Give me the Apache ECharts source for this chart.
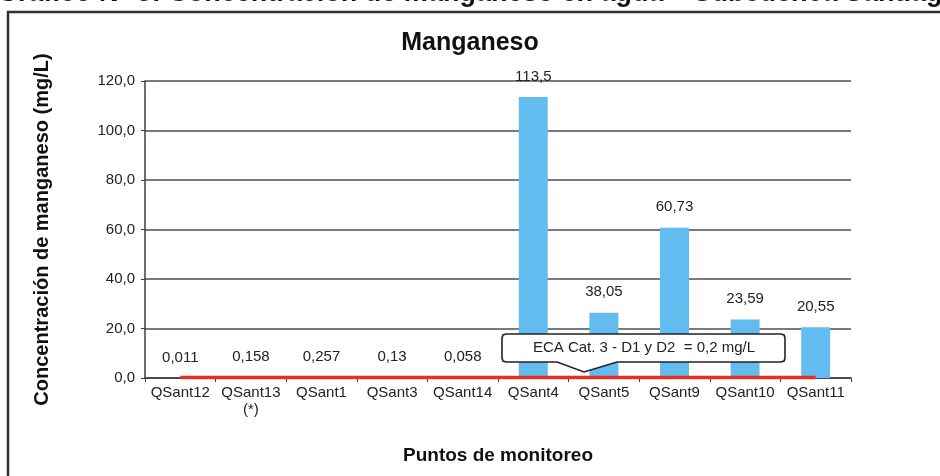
<!DOCTYPE html>
<html>
<head>
<meta charset="utf-8">
<script src="https://cdn.jsdelivr.net/npm/echarts@6/dist/echarts.min.js"></script>
<style>
  html, body { margin: 0; padding: 0; background: #fff; }
  #chart { width: 940px; height: 476px; }
</style>
</head>
<body>
<div id="chart"></div>
<script>
const categories = ['QSant12', 'QSant13\n(*)', 'QSant1', 'QSant3', 'QSant14', 'QSant4', 'QSant5', 'QSant9', 'QSant10', 'QSant11']
// bar heights as drawn in the picture
const manganeso = [0.011, 0.158, 0.257, 0.13, 0.058, 113.5, 26.4, 60.73, 23.59, 20.55]
// data labels as printed on the chart
const valueLabels = ['0,011', '0,158', '0,257', '0,13', '0,058', '113,5', '38,05', '60,73', '23,59', '20,55']
// ECA Cat. 3 - D1 y D2 limit
const ecaLimit = [0.2, 0.2, 0.2, 0.2, 0.2, 0.2, 0.2, 0.2, 0.2, 0.2]
const yTicks = { min: 0, max: 120, interval: 20 }

const font = 'Liberation Sans'
const chart = echarts.init(document.getElementById('chart'))

// callout outline: rounded box with a pointer at the bottom
const callout = [
  [506, 334], [781, 334], [784, 335], [785, 338], [785, 358], [784, 361], [781, 362],
  [617, 362], [584, 372], [557, 362],
  [506, 362], [503, 361], [502, 358], [502, 338], [503, 335],
]

const option = {
  animation: false,
  textStyle: { fontFamily: font },
  title: {
    text: 'Manganeso',
    left: 'center',
    top: 26,
    textStyle: { fontFamily: font, fontSize: 25, fontWeight: 'bold', color: '#111' },
  },
  grid: { left: 145, right: 89, top: 81, bottom: 98 },
  xAxis: {
    type: 'category',
    data: categories,
    name: 'Puntos de monitoreo',
    nameLocation: 'middle',
    nameGap: 68,
    nameTextStyle: { fontFamily: font, fontSize: 19, fontWeight: 'bold', color: '#111' },
    axisLine: { lineStyle: { color: '#3a3d4a', width: 1.5 } },
    axisTick: { show: true, length: 4, lineStyle: { color: '#3a3d4a' } },
    axisLabel: { interval: 0, fontFamily: font, fontSize: 15, color: '#222', margin: 6, lineHeight: 17 },
  },
  yAxis: {
    type: 'value',
    min: yTicks.min,
    max: yTicks.max,
    interval: yTicks.interval,
    name: 'Concentración de manganeso (mg/L)',
    nameLocation: 'middle',
    nameGap: 93,
    nameTextStyle: { fontFamily: font, fontSize: 20, fontWeight: 'bold', color: '#111' },
    axisLine: { show: true, lineStyle: { color: '#3a3d4a', width: 1.5 } },
    axisTick: { show: true, length: 4, lineStyle: { color: '#3a3d4a' } },
    axisLabel: {
      fontFamily: font, fontSize: 15, color: '#222', margin: 10,
      formatter: v => v.toFixed(1).replace('.', ','),
    },
    splitLine: { lineStyle: { color: '#4a4d5e', width: 1.5 } },
  },
  series: [
    {
      type: 'bar',
      data: manganeso,
      barWidth: '41%',
      itemStyle: { color: '#62bcef' },
      label: {
        show: true,
        position: 'top',
        distance: 13,
        fontFamily: font,
        fontSize: 15,
        color: '#222',
        formatter: p => valueLabels[p.dataIndex],
      },
      z: 2,
    },
    {
      type: 'line',
      data: ecaLimit,
      symbol: 'none',
      lineStyle: { color: '#ef2d1c', width: 3.5 },
      z: 3,
    },
  ],
  graphic: [
    {
      type: 'rect',
      shape: { x: 8, y: 12, width: 960, height: 500 },
      style: { fill: 'none', stroke: '#2e3040', lineWidth: 2.5 },
      silent: true,
    },
    {
      type: 'text',
      x: -3,
      y: 7,
      style: {
        text: 'Gráfico N° 5: Concentración de manganeso en agua – Subcuenca Santiago',
        fontFamily: font,
        fontSize: 27,
        fontWeight: 'bold',
        fill: '#111',
        verticalAlign: 'bottom',
      },
    },
    {
      type: 'polygon',
      z: 100,
      shape: { points: callout },
      style: { fill: '#fff', stroke: '#222', lineWidth: 1.6 },
    },
    {
      type: 'text',
      z: 101,
      x: 644,
      y: 348,
      style: {
        text: 'ECA Cat. 3 - D1 y D2  = 0,2 mg/L',
        fontFamily: font,
        fontSize: 15,
        fill: '#222',
        align: 'center',
        verticalAlign: 'middle',
      },
    },
  ],
}

chart.setOption(option)
</script>
</body>
</html>
